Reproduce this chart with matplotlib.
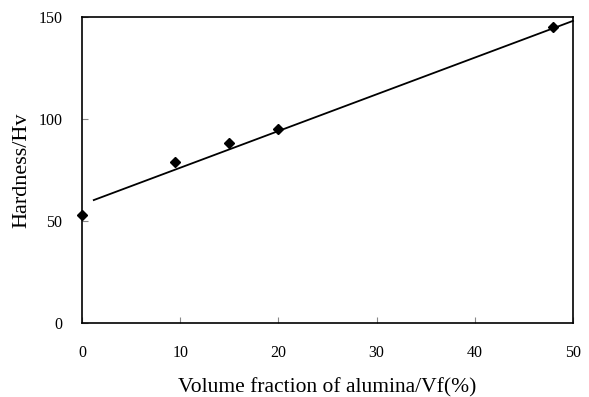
import matplotlib
matplotlib.use("Agg")
import matplotlib.pyplot as plt
import numpy as np

vf = [0, 9.5, 15, 20, 48]
hardness = [53, 79, 88, 95, 145]
fit_x = [1.2, 50]
fit_slope = 1.8
fit_intercept = 58.1
xticks = [0, 10, 20, 30, 40, 50]
yticks = [0, 50, 100, 150]

plt.rcParams['font.family'] = ['Liberation Serif', 'DejaVu Serif']
fig = plt.figure(figsize=(5.89, 3.97), dpi=100)
ax = fig.add_axes([82/589, 1-323/397, (573-82)/589, (323-17)/397])
fx = np.array(fit_x)
ax.plot(fx, fit_intercept + fit_slope*fx, color='black', lw=1.3, clip_on=False)
ax.plot(vf, hardness, linestyle='none', marker='D', color='black', ms=5.5, clip_on=False)
ax.set_xlim(0, 50)
ax.set_ylim(0, 150)
ax.set_xticks(xticks)
ax.set_yticks(yticks)
ax.tick_params(direction='in', length=4, width=0.8, color='#888888', labelsize=11.5)
ax.tick_params(axis='x', pad=16)
ax.tick_params(axis='y', pad=14)
for s in ax.spines.values():
    s.set_linewidth(1.2)
ax.set_xlabel('Volume fraction of alumina/Vf(%)', fontsize=15.5, labelpad=12)
ax.set_ylabel('Hardness/Hv', fontsize=16, labelpad=5)
fig.savefig('out.png', dpi=100)
